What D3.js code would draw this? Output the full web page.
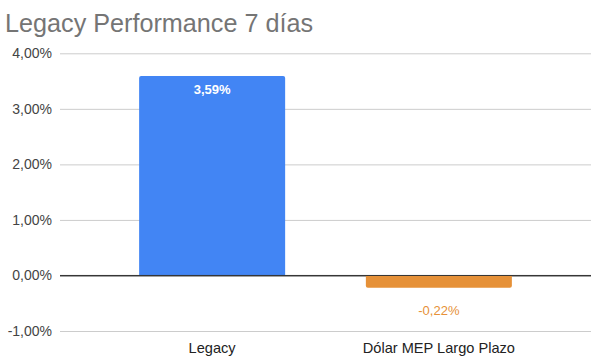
<!DOCTYPE html>
<html><head><meta charset="utf-8">
<script src="https://cdn.jsdelivr.net/npm/d3@7"></script>
<style>body{margin:0;background:#fff}svg{display:block}</style>
</head><body>
<script>
const categories = ["Legacy", "Dólar MEP Largo Plazo"];
const values = [3.59, -0.22];
const colors = ["#4285f4", "#e69138"];
const yTicks = [-1, 0, 1, 2, 3, 4];
const title = "Legacy Performance 7 días";

const W = 600, H = 362;
const FONT = "Liberation Sans, Arial, sans-serif";
const fmt = v => (v < 0 ? "-" : "") + d3.format(".2f")(Math.abs(v)).replace(".", ",") + "%";
const svg = d3.select("body").append("svg").attr("width", W).attr("height", H);
svg.append("rect").attr("width", W).attr("height", H).attr("fill", "#fff");

const x = d3.scaleBand().domain(categories).range([60, 591]).paddingInner(0.356).paddingOuter(0.349);
const y = d3.scaleLinear().domain([-1, 4]).range([331, 53.3]);

svg.append("text").attr("x", 5).attr("y", 32).text(title)
  .attr("font-family", FONT).attr("font-size", 25.2).attr("fill", "#757575");

const yAxis = svg.append("g").attr("transform", "translate(60,0)")
  .call(d3.axisLeft(y).tickValues(yTicks).tickSize(-531).tickFormat(fmt).tickPadding(8));
yAxis.select(".domain").remove();
yAxis.selectAll(".tick line").attr("stroke", d => d === 0 ? "#333" : "#ccc").attr("stroke-width", 1);
yAxis.selectAll(".tick text").attr("font-family", FONT).attr("font-size", 14).attr("fill", "#444");

const bars = svg.append("g");
bars.selectAll("path").data(values).join("path")
  .attr("fill", (d, i) => colors[i])
  .attr("d", (d, i) => {
    const x0 = x(categories[i]), w = x.bandwidth();
    const y0 = y(0), y1 = y(d), r = 2;
    if (d >= 0) {
      return `M${x0},${y0}V${y1 + r}Q${x0},${y1} ${x0 + r},${y1}H${x0 + w - r}Q${x0 + w},${y1} ${x0 + w},${y1 + r}V${y0}Z`;
    } else {
      return `M${x0},${y0}V${y1 - r}Q${x0},${y1} ${x0 + r},${y1}H${x0 + w - r}Q${x0 + w},${y1} ${x0 + w},${y1 - r}V${y0}Z`;
    }
  });

svg.append("line").attr("x1", 60).attr("x2", 591).attr("y1", y(0)).attr("y2", y(0)).attr("stroke", "#333");

svg.append("g").selectAll("text").data(values).join("text")
  .attr("x", (d, i) => x(categories[i]) + x.bandwidth() / 2)
  .attr("y", d => d >= 0 ? y(d) + 18 : y(d) + 27)
  .attr("text-anchor", "middle")
  .attr("font-family", FONT).attr("font-size", 13)
  .attr("font-weight", d => d >= 0 ? "bold" : "normal")
  .attr("fill", (d, i) => d >= 0 ? "#fff" : colors[i])
  .text(fmt);

svg.append("g").selectAll("text").data(categories).join("text")
  .attr("x", d => x(d) + x.bandwidth() / 2).attr("y", 353)
  .attr("text-anchor", "middle")
  .attr("font-family", FONT).attr("font-size", 14.6).attr("fill", "#222")
  .text(d => d);
</script>
</body></html>
